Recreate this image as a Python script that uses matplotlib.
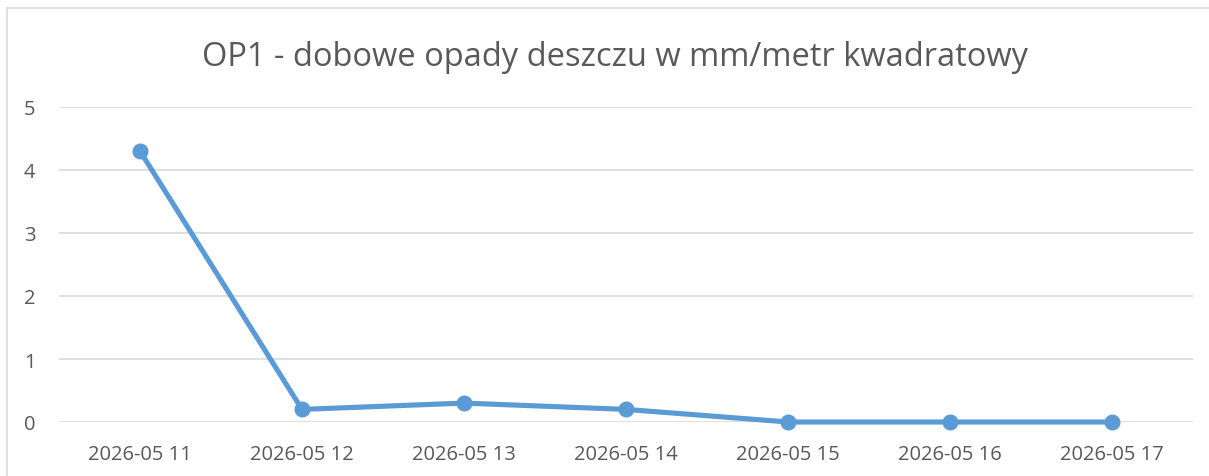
import matplotlib
matplotlib.use("Agg")
import matplotlib.pyplot as plt
from matplotlib.lines import Line2D

dates = ["2026-05 11", "2026-05 12", "2026-05 13", "2026-05 14", "2026-05 15", "2026-05 16", "2026-05 17"]
values = [4.3, 0.2, 0.3, 0.2, 0.0, 0.0, 0.0]
yticks = [0, 1, 2, 3, 4, 5]
title = "OP1 - dobowe opady deszczu w mm/metr kwadratowy"

W, H = 1209, 477
fig = plt.figure(figsize=(W / 100, H / 100), dpi=100)
plt.rcParams['font.family'] = ['Open Sans', 'DejaVu Sans']
text_color = "#595959"
grid_color = "#d9d9d9"
line_color = "#5B9BD5"

# chart border (top and left visible)
fig.add_artist(Line2D([7 / W, 1.0], [1 - 9 / H, 1 - 9 / H], color=grid_color, lw=1.2, transform=fig.transFigure))
fig.add_artist(Line2D([7 / W, 7 / W], [0, 1 - 9 / H], color=grid_color, lw=1.2, transform=fig.transFigure))

left, right = 59 / W, 1193 / W
bottom, top = 1 - 423 / H, 1 - 108 / H
ax = fig.add_axes([left, bottom, right - left, top - bottom])
x = list(range(len(dates)))
ax.plot(x, values, color=line_color, lw=3.7, marker='o', markersize=10.5, solid_capstyle='round')
ax.set_xlim(-0.5, len(dates) - 0.5)
ax.set_ylim(0, 5)
ax.set_yticks(yticks)
ax.set_yticklabels([str(v) for v in yticks])
ax.set_xticks(x)
ax.set_xticklabels(dates)
ax.grid(axis='y', color=grid_color, lw=1.2)
ax.set_axisbelow(True)
for s in ax.spines.values():
    s.set_visible(False)
ax.tick_params(axis='both', length=0, colors=text_color, labelsize=14.5)
ax.tick_params(axis='y', pad=17)
ax.tick_params(axis='x', pad=16)
for ln in ax.lines:
    ln.set_clip_on(False)

fig.text(615 / W, 1 - 57 / H, title, ha='center', va='center', fontsize=23.5, color=text_color)

fig.savefig("out.png", dpi=100)
